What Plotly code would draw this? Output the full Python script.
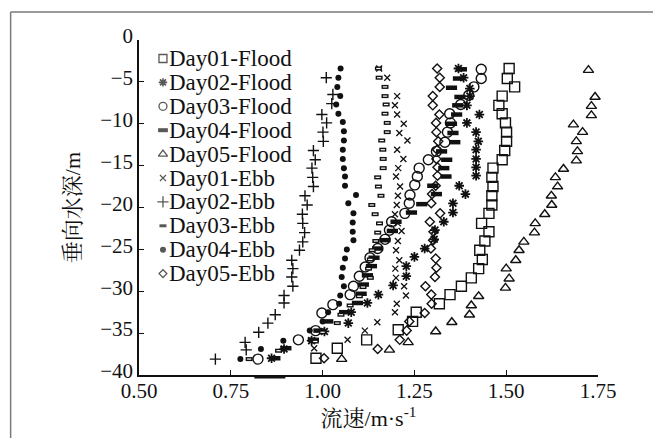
import plotly.graph_objects as go

# ---------------- data ----------------
names = ["Day01-Flood", "Day02-Flood", "Day03-Flood", "Day04-Flood", "Day05-Flood",
         "Day01-Ebb", "Day02-Ebb", "Day03-Ebb", "Day04-Ebb", "Day05-Ebb"]

v_day01_flood = [1.508, 1.503, 1.523, 1.489, 1.480, 1.489, 1.498, 1.501, 1.501, 1.496, 1.489, 1.464, 1.461,
                 1.464, 1.461, 1.461, 1.453, 1.433, 1.453, 1.442, 1.428, 1.435, 1.425, 1.405, 1.378, 1.347,
                 1.318, 1.255, 1.245, 1.206, 1.120, 1.040, 0.982]
d_day01_flood = [-3.4, -4.6, -5.6, -6.7, -7.8, -8.8, -9.9, -11.0, -12.1, -13.2, -14.3, -15.3, -16.4, -17.5,
                 -18.6, -19.7, -20.7, -21.9, -22.9, -24.0, -25.1, -26.2, -27.3, -28.4, -29.4, -30.4, -31.5,
                 -32.5, -33.6, -34.6, -35.8, -36.8, -38.0]

v_day02_flood = [1.370, 1.384, 1.401, 1.401, 1.393, 1.427, 1.393, 1.418, 1.424, 1.418, 1.418, 1.418, 1.418,
                 1.372, 1.389, 1.355, 1.355, 1.330, 1.306, 1.304, 1.278, 1.250, 1.228, 1.228, 1.192, 1.152,
                 1.122, 1.078, 1.070, 1.005, 0.970, 0.895, 0.861]
d_day02_flood = [-3.4, -4.5, -5.8, -6.7, -7.8, -8.9, -9.9, -11.0, -12.1, -13.1, -14.2, -15.2, -16.2, -17.4,
                 -18.4, -19.5, -20.6, -21.7, -22.7, -23.8, -24.9, -25.9, -27.0, -28.2, -29.3, -30.4, -31.4,
                 -32.5, -33.8, -34.8, -35.9, -36.9, -38.0]

v_day03_flood = [1.432, 1.432, 1.412, 1.398, 1.376, 1.346, 1.348, 1.340, 1.333, 1.310, 1.288, 1.263, 1.258,
                 1.251, 1.238, 1.236, 1.224, 1.188, 1.182, 1.170, 1.150, 1.129, 1.116, 1.100, 1.084, 1.075,
                 1.028, 0.998, 0.981, 0.934, 0.824]
d_day03_flood = [-3.5, -4.6, -5.6, -6.6, -7.7, -8.8, -9.9, -11.0, -12.2, -13.3, -14.3, -15.3, -16.3, -17.3,
                 -18.5, -19.5, -20.7, -21.7, -22.7, -23.8, -24.9, -26.0, -27.1, -28.2, -29.4, -30.4, -31.6,
                 -32.6, -34.7, -35.8, -38.1]

v_day04_flood = [1.378, 1.370, 1.351, 1.374, 1.368, 1.365, 1.351, 1.355, 1.360, 1.324, 1.338, 1.330, 1.336,
                 1.300, 1.310, 1.270, 1.242, 1.200, 1.190, 1.170, 1.150, 1.140, 1.133, 1.122, 1.111, 1.105,
                 1.095, 1.060, 1.014, 0.990, 0.975, 0.900, 0.870]
d_day04_flood = [-3.5, -4.6, -5.7, -6.8, -7.8, -8.9, -10.0, -11.1, -12.2, -13.3, -14.3, -15.3, -16.3, -17.4,
                 -18.4, -19.6, -20.6, -21.7, -22.8, -23.9, -24.9, -26.0, -27.0, -28.1, -29.2, -30.3, -31.4,
                 -32.5, -33.6, -34.7, -35.8, -36.8, -38.0]

v_day05_flood = [1.724, 1.742, 1.732, 1.732, 1.683, 1.708, 1.691, 1.694, 1.691, 1.656, 1.634, 1.640, 1.623,
                 1.624, 1.605, 1.579, 1.577, 1.548, 1.535, 1.526, 1.500, 1.508, 1.498, 1.425, 1.405, 1.400,
                 1.352, 1.308, 1.233, 1.182, 1.052]
d_day05_flood = [-3.6, -6.8, -7.9, -9.0, -10.1, -11.0, -12.1, -13.3, -14.4, -15.4, -16.4, -17.5, -18.6, -19.7,
                 -20.8, -21.9, -23.0, -24.1, -25.1, -26.3, -27.3, -28.5, -29.6, -30.6, -31.7, -32.8, -33.7,
                 -34.8, -36.1, -37.0, -38.1]

v_day01_ebb = [1.154, 1.176, 1.203, 1.197, 1.203, 1.221, 1.209, 1.231, 1.203, 1.220, 1.206, 1.200, 1.211,
               1.205, 1.202, 1.197, 1.205, 1.215, 1.205, 1.200, 1.209, 1.198, 1.200, 1.222, 1.227, 1.202,
               1.197, 1.149, 1.115, 1.068, 0.977]
d_day01_ebb = [-3.4, -4.5, -6.7, -7.8, -8.9, -10.0, -11.1, -12.0, -13.1, -14.2, -15.3, -16.3, -17.5, -18.6,
               -19.7, -20.8, -21.9, -22.8, -24.0, -25.1, -26.3, -27.3, -28.4, -29.4, -30.5, -31.5, -32.5,
               -33.7, -34.7, -35.8, -36.8]

v_day02_ebb = [1.010, 1.028, 1.025, 0.998, 1.011, 1.001, 1.002, 0.975, 0.980, 0.971, 0.973, 0.975, 0.952,
               0.958, 0.945, 0.946, 0.951, 0.946, 0.937, 0.916, 0.919, 0.916, 0.919, 0.895, 0.895, 0.871,
               0.851, 0.826, 0.789, 0.792, 0.708]
d_day02_ebb = [-4.5, -6.5, -7.6, -8.9, -9.9, -11.0, -12.1, -13.2, -14.3, -15.3, -16.4, -17.5, -18.6, -19.7,
               -20.8, -21.9, -23.0, -24.1, -25.1, -26.3, -27.3, -28.3, -29.4, -30.5, -31.4, -32.8, -33.8,
               -34.9, -36.1, -37.0, -38.1]

v_day03_ebb = [1.152, 1.154, 1.170, 1.170, 1.173, 1.170, 1.176, 1.176, 1.161, 1.164, 1.165, 1.165, 1.150,
               1.152, 1.159, 1.134, 1.143, 1.155, 1.150, 1.145, 1.135, 1.130, 1.125, 1.130, 1.110, 1.100,
               1.075, 1.050, 1.040, 1.000, 0.980, 0.880, 0.800]
d_day03_ebb = [-3.4, -4.5, -5.6, -6.7, -7.7, -8.8, -9.9, -11.0, -12.0, -13.1, -14.2, -15.3, -16.4, -17.5,
               -18.6, -19.7, -20.8, -21.9, -23.0, -24.0, -25.1, -26.2, -27.3, -28.4, -29.5, -30.6, -31.7,
               -32.8, -33.8, -34.9, -36.0, -37.1, -38.1]

v_day04_ebb = [1.049, 1.043, 1.040, 1.048, 1.037, 1.043, 1.055, 1.058, 1.058, 1.055, 1.055, 1.058, 1.061,
               1.061, 1.091, 1.070, 1.084, 1.082, 1.082, 1.084, 1.066, 1.061, 1.055, 1.052, 1.058, 1.048,
               1.045, 1.015, 1.000, 0.965, 0.893, 0.832, 0.776]
d_day04_ebb = [-3.4, -4.5, -5.6, -6.7, -7.7, -8.8, -9.8, -10.9, -12.0, -13.1, -14.2, -15.3, -16.3, -17.4,
               -18.5, -19.5, -20.7, -21.8, -22.9, -23.9, -25.0, -26.1, -27.2, -28.3, -29.4, -30.5, -31.5,
               -32.5, -33.6, -34.7, -35.9, -36.9, -38.1]

v_day05_ebb = [1.312, 1.319, 1.319, 1.300, 1.300, 1.318, 1.309, 1.310, 1.315, 1.312, 1.310, 1.313, 1.313,
               1.308, 1.298, 1.296, 1.320, 1.292, 1.302, 1.301, 1.295, 1.308, 1.310, 1.306, 1.280, 1.296,
               1.297, 1.278, 1.236, 1.229, 1.210, 1.150, 1.004]
d_day05_ebb = [-3.4, -4.5, -5.6, -6.7, -7.8, -8.9, -9.9, -11.0, -12.1, -13.1, -14.2, -15.2, -16.2, -17.4,
               -18.4, -19.5, -20.7, -21.7, -22.9, -23.9, -24.9, -26.1, -27.2, -28.3, -29.4, -30.4, -31.5,
               -32.6, -33.6, -34.7, -35.8, -36.9, -38.0]

x_ticks = [0.50, 0.75, 1.00, 1.25, 1.50, 1.75]
y_ticks = [0, -5, -10, -15, -20, -25, -30, -35, -40]

# ---------------- styling ----------------
W, H = 653, 438
PL, PR, PT, PB = 138.5, 598.0, 40.0, 375.0     # plot-area pixel bounds
INK = "#111111"
SERIF = "Liberation Serif, Noto Serif CJK SC, Noto Sans CJK SC, serif"

series_vals = [v_day01_flood, v_day02_flood, v_day03_flood, v_day04_flood, v_day05_flood,
               v_day01_ebb, v_day02_ebb, v_day03_ebb, v_day04_ebb, v_day05_ebb]
series_deps = [d_day01_flood, d_day02_flood, d_day03_flood, d_day04_flood, d_day05_flood,
               d_day01_ebb, d_day02_ebb, d_day03_ebb, d_day04_ebb, d_day05_ebb]
sym = ["square-open", "asterisk-open", "circle-open", "line-ew-open", "triangle-up-open",
       "x-thin-open", "cross-thin-open", "line-ew-open", "circle", "diamond-open"]
msize = [10, 8, 10, 8, 9, 6, 8, 5, 6, 7]
mlw = [1.4, 1.8, 1.4, 4.5, 1.4, 1.3, 1.4, 4.0, 0, 1.4]
leg_size = [8, 7, 8, 7, 8, 6, 8, 5, 6, 6]
leg_lw = [1.3, 1.6, 1.3, 4.0, 1.3, 1.2, 1.3, 3.0, 0, 1.3]

fig = go.Figure()
for i in range(len(names)):
    fig.add_trace(go.Scatter(
        x=series_vals[i], y=series_deps[i], mode="markers", name=names[i],
        showlegend=False, cliponaxis=False,
        marker=dict(symbol=sym[i], size=msize[i], color=INK,
                    line=dict(color=INK, width=mlw[i]))))
    if i == 7:  # hollow look for the small Day03-Ebb rectangles
        fig.add_trace(go.Scatter(
            x=series_vals[i], y=series_deps[i], mode="markers", showlegend=False,
            cliponaxis=False, hoverinfo="skip",
            marker=dict(symbol="line-ew-open", size=3, color="white",
                        line=dict(color="white", width=1.2))))

# custom legend (pixel-unit overlay axes)
LEG_MX, LEG_TX, LEG_Y0, LEG_DY = 162.5, 168.0, 58.5, 23.9
leg_y = [LEG_Y0 + i * LEG_DY for i in range(len(names))]
fig.add_trace(go.Scatter(
    x=[LEG_MX] * len(names), y=leg_y, xaxis="x2", yaxis="y2", mode="markers",
    showlegend=False, hoverinfo="skip", cliponaxis=False,
    marker=dict(symbol=sym, size=leg_size, color=INK, line=dict(color=INK, width=leg_lw))))

annotations = []
for i, nm in enumerate(names):
    annotations.append(dict(x=LEG_TX, y=leg_y[i], xref="x2", yref="y2", text=nm,
                            showarrow=False, xanchor="left", yanchor="middle",
                            borderpad=0,
                            font=dict(family=SERIF, size=23, color=INK)))


def px(xp):
    return (xp - PL) / (PR - PL)


def py(yp):
    return (PB - yp) / (PB - PT)


shapes = [
    dict(type="line", xref="paper", yref="paper", x0=px(10), x1=px(10), y0=py(12), y1=py(H),
         line=dict(color="#7a7a7a", width=1.5)),
    dict(type="line", xref="paper", yref="paper", x0=px(10), x1=px(W), y0=py(12), y1=py(12),
         line=dict(color="#7a7a7a", width=1.5)),
    dict(type="line", xref="paper", yref="paper", x0=px(254), x1=px(285), y0=py(377), y1=py(377),
         line=dict(color=INK, width=3)),
]

fig.update_layout(
    width=W, height=H,
    margin=dict(l=PL, r=W - PR, t=PT, b=H - PB, pad=0),
    paper_bgcolor="white", plot_bgcolor="white",
    font=dict(family=SERIF, color=INK),
    showlegend=False,
    annotations=annotations,
    shapes=shapes,
    xaxis=dict(range=[0.5, 1.75], tickvals=x_ticks, ticktext=[f"{t:.2f}" for t in x_ticks],
               showline=True, linecolor=INK, linewidth=1.5, ticks="inside", ticklen=5,
               tickwidth=1.3, tickcolor=INK, showgrid=False, zeroline=False, automargin=False,
               ticklabelstandoff=-4,
               tickfont=dict(family=SERIF, size=21, color=INK),
               title=dict(text="流速/m·s<sup>-1</sup>", standoff=2,
                          font=dict(family=SERIF, size=22, color=INK))),
    yaxis=dict(range=[-40, 0], tickvals=y_ticks,
               showline=True, linecolor=INK, linewidth=1.5, ticks="inside", ticklen=5,
               tickwidth=1.3, tickcolor=INK, showgrid=False, zeroline=False, automargin=False,
               ticklabelshift=-4,
               tickfont=dict(family=SERIF, size=21, color=INK),
               title=dict(text="垂向水深/m", standoff=14,
                          font=dict(family=SERIF, size=22, color=INK))),
    xaxis2=dict(range=[PL, PR], overlaying="x", anchor="y2", visible=False, fixedrange=True),
    yaxis2=dict(range=[PB, PT], overlaying="y", anchor="x2", visible=False, fixedrange=True),
)

fig.write_html("out.html")
